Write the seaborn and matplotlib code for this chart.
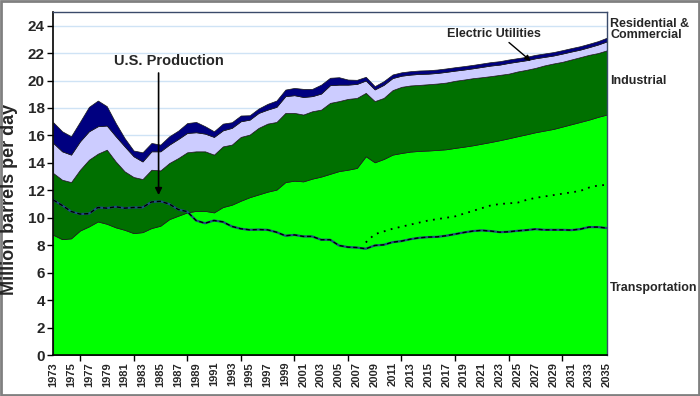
import numpy as np
import matplotlib
matplotlib.use('Agg')
import matplotlib.pyplot as plt
from matplotlib.patches import Rectangle
import seaborn as sns

# 数据：年份 1973-2035，单位：百万桶/日
years = list(range(1973, 2036))

transportation = [
    8.76, 8.44, 8.50, 9.07, 9.37, 9.73, 9.56, 9.30, 9.12, 8.88,
    8.95, 9.25, 9.42, 9.90, 10.15, 10.39, 10.50, 10.50, 10.39, 10.78,
    10.95, 11.24, 11.50, 11.70, 11.90, 12.05, 12.60, 12.70, 12.65, 12.85,
    13.00, 13.20, 13.40, 13.50, 13.63, 14.48, 14.04, 14.28, 14.60, 14.72,
    14.82, 14.87, 14.90, 14.94, 14.99, 15.09, 15.18, 15.28, 15.40, 15.52,
    15.65, 15.79, 15.94, 16.08, 16.23, 16.35, 16.47, 16.64, 16.81, 16.98,
    17.15, 17.35, 17.52]

industrial = [
    4.50, 4.33, 4.10, 4.43, 4.86, 4.94, 5.40, 4.80, 4.26, 4.09,
    3.87, 4.25, 4.03, 4.09, 4.20, 4.38, 4.34, 4.34, 4.21, 4.42,
    4.38, 4.65, 4.56, 4.85, 4.96, 4.93, 5.04, 4.94, 4.87, 4.91,
    4.88, 5.17, 5.10, 5.16, 5.10, 4.62, 4.46, 4.45, 4.70, 4.82,
    4.82, 4.81, 4.83, 4.84, 4.86, 4.89, 4.89, 4.89, 4.84, 4.80,
    4.76, 4.71, 4.72, 4.70, 4.69, 4.75, 4.77, 4.72, 4.72, 4.72,
    4.72, 4.65, 4.68]

residential_commercial = [
    2.19, 2.07, 2.00, 2.07, 2.07, 2.00, 1.76, 1.84, 1.82, 1.51,
    1.28, 1.34, 1.39, 1.34, 1.39, 1.41, 1.39, 1.29, 1.29, 1.17,
    1.22, 1.14, 1.09, 1.09, 1.02, 1.10, 1.22, 1.29, 1.28, 1.10,
    1.17, 1.29, 1.20, 1.04, 1.02, 0.90, 0.85, 0.95, 0.88, 0.81,
    0.79, 0.80, 0.77, 0.77, 0.78, 0.74, 0.73, 0.72, 0.75, 0.77,
    0.75, 0.78, 0.72, 0.70, 0.70, 0.62, 0.58, 0.60, 0.58, 0.55,
    0.56, 0.62, 0.65]

electric_utilities = [
    1.51, 1.46, 1.34, 1.43, 1.78, 1.87, 1.41, 0.96, 0.60, 0.42,
    0.67, 0.61, 0.49, 0.61, 0.61, 0.72, 0.75, 0.54, 0.41, 0.49,
    0.41, 0.42, 0.32, 0.32, 0.42, 0.46, 0.48, 0.53, 0.59, 0.53,
    0.65, 0.54, 0.54, 0.37, 0.30, 0.27, 0.24, 0.27, 0.26, 0.25,
    0.25, 0.25, 0.25, 0.25, 0.25, 0.25, 0.25, 0.25, 0.25, 0.25,
    0.25, 0.25, 0.25, 0.25, 0.25, 0.25, 0.25, 0.25, 0.25, 0.25,
    0.25, 0.25, 0.27]

us_production = [
    11.30, 10.90, 10.46, 10.27, 10.30, 10.75, 10.70, 10.80, 10.70, 10.75,
    10.75, 11.15, 11.20, 11.00, 10.60, 10.45, 9.80, 9.60, 9.80, 9.70,
    9.37, 9.20, 9.12, 9.14, 9.12, 8.95, 8.69, 8.75, 8.64, 8.64,
    8.40, 8.40, 7.98, 7.86, 7.83, 7.74, 7.98, 8.03, 8.22, 8.30,
    8.44, 8.54, 8.59, 8.61, 8.69, 8.81, 8.93, 9.03, 9.08, 9.03,
    8.95, 8.98, 9.05, 9.10, 9.17, 9.12, 9.12, 9.12, 9.10, 9.17,
    9.32, 9.32, 9.25]

# 虚线：2008 年以后的另一条产量曲线
dotted_years = list(range(2008, 2036))
dotted_production = [
    8.20, 8.80, 9.00, 9.20, 9.35, 9.50, 9.65, 9.80, 9.90, 10.00,
    10.10, 10.30, 10.50, 10.70, 10.90, 11.00, 11.05, 11.10, 11.30, 11.45,
    11.55, 11.65, 11.75, 11.85, 11.95, 12.20, 12.35, 12.40]

sector_colors = ['#00ff00', '#007000', '#ccccff', '#000080']

sns.set_theme(style='white')
plt.rcParams['font.family'] = ['Liberation Sans', 'DejaVu Sans']

fig = plt.figure(figsize=(7.0, 3.96), dpi=100)
ax = fig.add_axes([0.076, 0.1035, 0.791, 0.8665])

# 网格线
for v in range(2, 25, 2):
    ax.axhline(v, color='#cfe3f5', lw=1.0, zorder=0)

# 堆积面积图
ax.stackplot(years, transportation, industrial, residential_commercial, electric_utilities,
             colors=sector_colors, edgecolor='#1a1a1a', linewidth=0.5, zorder=1)

# 产量曲线（深蓝底线 + 黑色短划）
sns.lineplot(x=years, y=us_production, ax=ax, color='#1f4a80', lw=1.6, zorder=3)
sns.lineplot(x=years, y=us_production, ax=ax, color='black', lw=1.0,
             linestyle=(0, (3, 2)), zorder=3)
sns.lineplot(x=dotted_years, y=dotted_production, ax=ax, color='black', lw=1.3,
             linestyle=(0, (1, 3)), zorder=3)

ax.set_xlim(1973, 2035)
ax.set_ylim(0, 25)
ax.set_yticks(range(0, 25, 2))
ax.set_yticklabels([str(v) for v in range(0, 25, 2)], fontsize=11, fontweight='bold')
ax.set_xticks(range(1973, 2036, 2))
ax.set_xticklabels([str(y) for y in range(1973, 2036, 2)], rotation=90,
                   fontsize=8, fontweight='bold')
ax.set_xticks(range(1973, 2034, 3), minor=True)
ax.tick_params(axis='x', which='major', length=0, pad=5)
ax.tick_params(axis='x', which='minor', length=4, width=1, color='black', direction='out')
ax.tick_params(axis='y', length=4, width=1, color='black', direction='out', pad=2)
ax.xaxis.set_ticks_position('bottom')
ax.yaxis.set_ticks_position('left')

fig.text(0.0135, 0.4975, 'Million barrels per day', rotation=90, fontsize=13,
         fontweight='bold', ha='center', va='center')

for side in ['left', 'bottom']:
    ax.spines[side].set_color('black')
    ax.spines[side].set_linewidth(1.2)
for side in ['top', 'right']:
    ax.spines[side].set_color('#3a4a6a')
    ax.spines[side].set_linewidth(1.0)
for s in ax.spines.values():
    s.set_zorder(5)

# 注释
ax.annotate('', xy=(1984.8, 11.45), xytext=(1984.8, 20.75),
            arrowprops=dict(arrowstyle='-|>', color='black', lw=1.2, mutation_scale=10), zorder=6)
ax.text(1986.0, 21.4, 'U.S. Production', fontsize=10.5, fontweight='bold',
        ha='center', va='center', zorder=6)
ax.annotate('', xy=(2026.7, 21.3), xytext=(2023.8, 22.9),
            arrowprops=dict(arrowstyle='-|>', color='black', lw=1.0, mutation_scale=8), zorder=6)
ax.text(2022.3, 23.4, 'Electric Utilities', fontsize=9, fontweight='bold',
        ha='center', va='center', zorder=6)

# 右侧图例文字
ax.text(2035.35, 23.7, 'Residential &\nCommercial', fontsize=9, fontweight='bold',
        ha='left', va='center', linespacing=0.95, clip_on=False)
ax.text(2035.35, 20.0, 'Industrial', fontsize=9, fontweight='bold',
        ha='left', va='center', clip_on=False)
ax.text(2035.3, 4.9, 'Transportation', fontsize=9, fontweight='bold',
        ha='left', va='center', clip_on=False)

# 外边框
fig.patches.append(Rectangle((0.001, 0.002), 0.997, 0.995, transform=fig.transFigure,
                             fill=False, edgecolor='#808080', linewidth=2))

fig.savefig('out.png', dpi=100)
